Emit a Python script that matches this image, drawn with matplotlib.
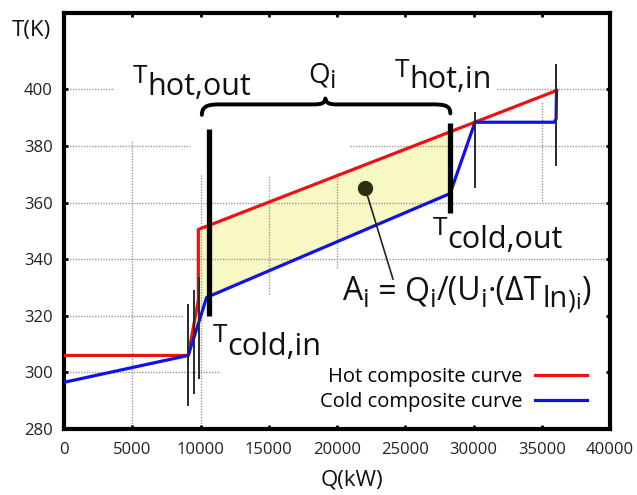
import numpy as np
import matplotlib
matplotlib.use("Agg")
import matplotlib.pyplot as plt
from matplotlib.path import Path
from matplotlib.patches import PathPatch

plt.rcParams['font.family'] = ['Open Sans', 'DejaVu Sans']

# composite curves (Q in kW, T in K)
hot_q = [0, 9100, 9840, 9840, 36080]
hot_t = [306, 306, 325.5, 350.5, 399.6]
cold_q = [0, 9100, 10450, 28280, 30110, 35900, 36050, 36080]
cold_t = [296.5, 306, 326.5, 363.2, 388.4, 388.4, 389.5, 399.6]

# interval i used for the shaded area
fill_q = [9840, 10450, 28280]

# marker lines
thin_q = [9100, 9520, 9900, 30110, 36080]
thin_lo = [288, 292.4, 297.7, 365.3, 373]
thin_hi = [324.2, 329.2, 333.8, 391.9, 409]
thick_q = [10620, 28280]
thick_lo = [320, 356.5]
thick_hi = [386, 388.3]

dot = (22050, 365.3)
dot_end = (24100, 333)

xticks = [0, 5000, 10000, 15000, 20000, 25000, 30000, 35000, 40000]
yticks = [280, 300, 320, 340, 360, 380, 400]

# grid pieces that are visible in the original (y, x0, x1) / (x, y0, y1)
hgrid = [(400, 0, 3600), (400, 31700, 40000), (380, 0, 9230), (380, 20950, 40000),
         (360, 0, 40000), (340, 0, 40000), (320, 0, 8650), (300, 0, 11430)]
vgrid = [(5000, 280, 382), (10000, 280, 369.6), (15000, 327.8, 369.6),
         (20000, 337, 370.3), (35000, 360.7, 395.4)]

fig = plt.figure(figsize=(6.37, 4.95), dpi=100)
ax = fig.add_axes([64/637, 66/495, 546/637, 416/495])
ax.set_xlim(0, 40000)
ax.set_ylim(280, 427)

for y, a, b in hgrid:
    ax.hlines(y, a, b, colors='#9a9a9a', linestyles=(0, (1, 1)), lw=1.0, zorder=1.5)
for x, a, b in vgrid:
    ax.vlines(x, a, b, colors='#9a9a9a', linestyles=(0, (1, 1)), lw=1.0, zorder=1.5)

fq = np.array(fill_q, dtype=float)
upper = np.interp(fq, hot_q[3:], hot_t[3:])
lower = np.interp(fq, cold_q, cold_t)
ax.fill_between(fq, lower, upper, color='#f8f8c4', lw=0, zorder=1)

ax.plot(hot_q, hot_t, color='#ee1111', lw=2.3, label='Hot composite curve', zorder=3)
ax.plot(cold_q, cold_t, color='#1111ee', lw=2.3, label='Cold composite curve', zorder=3)

ax.vlines(thin_q, thin_lo, thin_hi, colors='#2a2a2a', lw=1.4, zorder=4)
ax.vlines(thick_q, thick_lo, thick_hi, colors='black', lw=3.8, zorder=4)

ax.plot([dot[0], dot_end[0]], [dot[1], dot_end[1]], color='#222', lw=1.2, zorder=5)
ax.plot(dot[0], dot[1], 'o', ms=10, color='#2e2e10', zorder=6)

# curly brace over interval
verts = [(10100, 391), (10100, 394.5), (10700, 394.7), (11500, 394.7),
         (18300, 394.7),
         (18900, 394.7), (19100, 395.2), (19150, 396.8),
         (19200, 395.2), (19400, 394.7), (20000, 394.7),
         (27000, 394.7),
         (27900, 394.7), (28300, 394.3), (28300, 391.5)]
codes = [Path.MOVETO, Path.CURVE4, Path.CURVE4, Path.CURVE4, Path.LINETO,
         Path.CURVE4, Path.CURVE4, Path.CURVE4,
         Path.CURVE4, Path.CURVE4, Path.CURVE4, Path.LINETO,
         Path.CURVE4, Path.CURVE4, Path.CURVE4]
ax.add_patch(PathPatch(Path(verts, codes), fill=False, lw=2.8, ec='black',
                       capstyle='round', joinstyle='round', zorder=5))


def label(x, y, parts):
    prev = None
    for s, size, drop in parts:
        if prev is None:
            prev = ax.text(x, y, s, fontsize=size, va='baseline', ha='left', color='#111', zorder=7)
        else:
            prev = ax.annotate(s, xy=(1, y), xycoords=(prev, 'data'), xytext=(0, -drop),
                               textcoords='offset points', fontsize=size, va='baseline',
                               ha='left', color='#111', zorder=7)


label(5055, 402.1, [('T', 19, 0), ('hot,out', 22, 8.6)])
label(17875, 402.5, [('Q', 20, 0), ('i', 18, 4.3)])
label(24250, 404.3, [('T', 19, 0), ('hot,in', 22, 8)])
label(27030, 348.5, [('T', 19, 0), ('cold,out', 22, 9.4)])
label(10915, 310.7, [('T', 19, 0), ('cold,in', 22, 9.4)])
label(20440, 325.5, [('A', 23, 0), ('i', 19, 5), (' = Q', 23, 0), ('i', 19, 5),
                     ('/(U', 23, 0), ('i', 19, 5), ('·(ΔT', 23, 0), ('ln', 21, 5),
                     (')', 19, 5), ('i', 16, 6), (')', 23, 0)])

for s in ax.spines.values():
    s.set_linewidth(3)
ax.set_xticks(xticks)
ax.set_yticks(yticks)
ax.tick_params(direction='in', length=3, width=2, top=True, right=True,
               labelsize=12, labelcolor='#222')
ax.tick_params(axis='x', pad=9)
ax.tick_params(axis='y', pad=8)

ax.set_xlabel('Q(kW)', fontsize=16, color='#111', va='center')
ax.xaxis.set_label_coords(0.527, -0.123)
ax.set_ylabel('T(K)', fontsize=16, rotation=0, ha='left', va='center', color='#111')
ax.yaxis.set_label_coords(-0.095, 0.959)

ax.legend(loc='lower right', bbox_to_anchor=(0.958, 0.04), frameon=False,
          markerfirst=False, fontsize=14.5, handlelength=2.6, handletextpad=0.6,
          labelspacing=0.25, borderpad=0, borderaxespad=0)

fig.savefig('out.png', dpi=100)
